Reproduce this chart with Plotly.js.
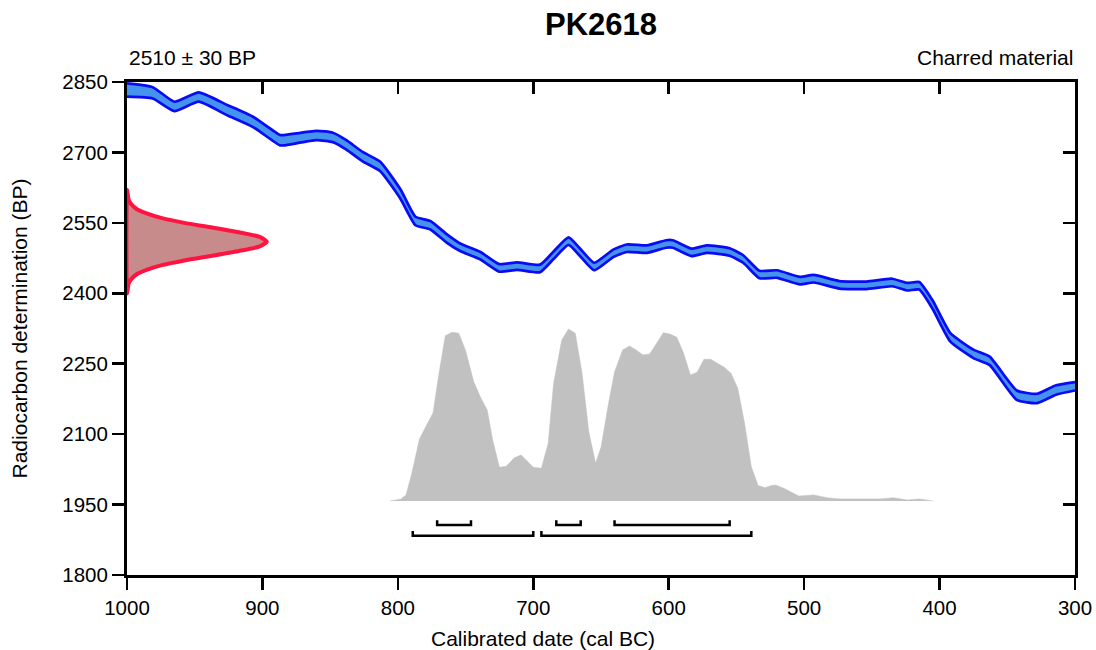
<!DOCTYPE html>
<html>
<head>
<meta charset="utf-8">
<script src="https://cdn.plot.ly/plotly-3.0.1.min.js"></script>
<style>html,body{margin:0;padding:0;background:#fff;}#chart{width:1096px;height:650px;}</style>
</head>
<body>
<div id="chart"></div>
<script>
// Calibration curve (cal BC, BP mean, 1-sigma in BP)
const curveYears = [1000, 981, 965, 947, 926, 907, 887, 884, 860, 848, 838, 826, 813, 798, 787, 776, 764, 754, 739, 725, 712, 695, 685, 674, 666, 655, 641, 631, 616, 602, 597, 583, 572, 555, 545, 533, 520, 503, 493, 474, 454, 435, 424, 415, 405, 392, 375, 363, 343, 328, 314, 300];
const curveBP    = [2833, 2827, 2798, 2818, 2790, 2765, 2726, 2726, 2736, 2732, 2716, 2691, 2670, 2611, 2554, 2545, 2517, 2498, 2480, 2454, 2458, 2453, 2481, 2511, 2489, 2457, 2485, 2496, 2494, 2505, 2505, 2487, 2494, 2488, 2473, 2440, 2441, 2427, 2431, 2418, 2417, 2423, 2414, 2416, 2375, 2306, 2271, 2256, 2183, 2176, 2194, 2202];
const curveSigma = [14, 12, 10, 10, 11, 11, 11, 11, 10, 10, 10, 10, 10, 10, 9, 9, 9, 8, 8, 8, 8, 8, 8, 8, 8, 8, 8, 8, 8, 8, 8, 8, 8, 8, 8, 8, 8, 8, 8, 8, 8, 8, 8, 8, 9, 9, 9, 9, 10, 10, 10, 9];

// Radiocarbon measurement distribution (BP levels, relative height)
const measBP     = [2620, 2600, 2590, 2580, 2570, 2560, 2550, 2540, 2530, 2520, 2510, 2500, 2490, 2480, 2470, 2460, 2450, 2440, 2430, 2420, 2400];
const measHeight = [0.001, 0.011, 0.03, 0.066, 0.14, 0.25, 0.41, 0.61, 0.80, 0.95, 1.0, 0.95, 0.80, 0.61, 0.41, 0.25, 0.14, 0.066, 0.03, 0.011, 0.001];

// Calibrated probability distribution (cal BC, relative probability)
const postYears = [806, 798, 794, 790, 784, 780, 774, 770, 765, 760, 755, 750, 744, 739, 734, 730, 725, 720, 714, 709, 705, 700, 694, 689, 685, 679, 674, 669, 664, 659, 654, 650, 644, 640, 634, 629, 624, 619, 614, 609, 604, 599, 594, 589, 584, 579, 574, 569, 564, 559, 554, 549, 544, 539, 534, 529, 524, 521, 515, 504, 493, 483, 474, 459, 444, 434, 424, 415, 405];
const postProb  = [0, 0.01, 0.035, 0.15, 0.36, 0.42, 0.51, 0.72, 0.955, 0.975, 0.97, 0.87, 0.69, 0.60, 0.526, 0.353, 0.195, 0.2, 0.25, 0.266, 0.237, 0.195, 0.189, 0.333, 0.68, 0.93, 0.994, 0.97, 0.74, 0.40, 0.218, 0.31, 0.584, 0.746, 0.873, 0.896, 0.873, 0.844, 0.85, 0.91, 0.973, 0.965, 0.946, 0.854, 0.728, 0.744, 0.819, 0.819, 0.796, 0.773, 0.738, 0.651, 0.449, 0.198, 0.089, 0.077, 0.09, 0.092, 0.073, 0.029, 0.035, 0.019, 0.012, 0.013, 0.012, 0.019, 0.006, 0.012, 0];

// Highest posterior density ranges (cal BC)
const hpd68From = [771, 683, 640];
const hpd68To   = [746, 665, 555];
const hpd95From = [789, 694];
const hpd95To   = [700, 539];

// Axis ticks
const xTicks = [1000, 900, 800, 700, 600, 500, 400, 300];
const yTicks = [1800, 1950, 2100, 2250, 2400, 2550, 2700, 2850];

const FONT = 'Liberation Sans, Arial, Helvetica, sans-serif';
const measScale = 103.2;  // width of measurement curve in years

const upper = curveBP.map((v, i) => v + curveSigma[i]);
const lower = curveBP.map((v, i) => v - curveSigma[i]);

// measurement polygon (closed along the y axis)
const mx = [1000], my = [measBP[0]];
measBP.forEach((b, i) => { mx.push(1000 - measHeight[i] * measScale); my.push(b); });
mx.push(1000); my.push(measBP[measBP.length - 1]);
mx.push(1000); my.push(measBP[0]);

function brackets(from, to, yv, t) {
  const x = [], y = [];
  from.forEach((f, i) => {
    x.push(f, f, to[i], to[i], null);
    y.push(yv + t, yv, yv, yv + t, null);
  });
  return {x, y};
}
const b68 = brackets(hpd68From, hpd68To, -0.139, 0.028);
const b95 = brackets(hpd95From, hpd95To, -0.201, 0.028);

const traces = [
  {x: postYears, y: postProb, xaxis: 'x', yaxis: 'y3', type: 'scatter', mode: 'lines',
   fill: 'tozeroy', fillcolor: 'rgb(193,193,193)', line: {color: 'rgb(193,193,193)', width: 0.5}, hoverinfo: 'skip'},
  {x: b68.x, y: b68.y, xaxis: 'x', yaxis: 'y3', mode: 'lines', line: {color: '#000', width: 2.5}, connectgaps: false, hoverinfo: 'skip'},
  {x: b95.x, y: b95.y, xaxis: 'x', yaxis: 'y3', mode: 'lines', line: {color: '#000', width: 2.5}, connectgaps: false, hoverinfo: 'skip'},
  {x: curveYears, y: lower, mode: 'lines', line: {color: 'rgb(10,10,245)', width: 2.7, shape: 'spline', smoothing: 0.5}, hoverinfo: 'skip'},
  {x: curveYears, y: upper, mode: 'lines', fill: 'tonexty', fillcolor: 'rgb(68,148,238)',
   line: {color: 'rgb(10,10,245)', width: 2.7, shape: 'spline', smoothing: 0.5}, hoverinfo: 'skip'},
  {x: mx, y: my, mode: 'lines', fill: 'toself', fillcolor: 'rgb(200,139,139)',
   line: {color: 'rgb(255,20,65)', width: 4, shape: 'spline', smoothing: 0.6}, hoverinfo: 'skip'}
];

const axisCommon = {showgrid: false, zeroline: false, showline: true, linecolor: '#000', linewidth: 3,
  tickcolor: '#000', tickwidth: 2.5, ticklen: 12, tickfont: {family: FONT, size: 20.5, color: '#000'}};

const layout = {
  width: 1096, height: 650,
  margin: {l: 127, r: 21, t: 82, b: 75, pad: 0},
  paper_bgcolor: '#fff', plot_bgcolor: '#fff',
  showlegend: false,
  font: {family: FONT, color: '#000'},
  xaxis: Object.assign({}, axisCommon, {range: [1000, 300], tickvals: xTicks, ticktext: xTicks.map(String), ticks: 'outside'}),
  xaxis2: Object.assign({}, axisCommon, {range: [1000, 300], tickvals: xTicks, ticks: 'inside', showticklabels: false, overlaying: 'x', side: 'top', anchor: 'y'}),
  yaxis: Object.assign({}, axisCommon, {range: [1800, 2850], tickvals: yTicks, ticktext: yTicks.map(String), ticks: 'outside'}),
  yaxis2: Object.assign({}, axisCommon, {range: [1800, 2850], tickvals: yTicks, ticks: 'inside', showticklabels: false, overlaying: 'y', side: 'right', anchor: 'x'}),
  yaxis3: {range: [-0.428, 2.422], overlaying: 'y', visible: false, showgrid: false, zeroline: false},
  annotations: [
    {text: '<b>PK2618</b>', xref: 'paper', yref: 'paper', x: 0.5, y: 1.1176, xanchor: 'center', yanchor: 'middle', showarrow: false, font: {family: FONT, size: 31, color: '#000'}},
    {text: '2510 ± 30 BP', xref: 'paper', yref: 'paper', x: 0, y: 1.0487, xanchor: 'left', yanchor: 'middle', showarrow: false, font: {family: FONT, size: 21, color: '#000'}},
    {text: 'Charred material', xref: 'paper', yref: 'paper', x: 1, y: 1.0487, xanchor: 'right', yanchor: 'middle', showarrow: false, font: {family: FONT, size: 21, color: '#000'}},
    {text: 'Calibrated date (cal BC)', xref: 'paper', yref: 'paper', x: 0.4388, y: -0.1295, xanchor: 'center', yanchor: 'middle', showarrow: false, font: {family: FONT, size: 21, color: '#000'}},
    {text: 'Radiocarbon determination (BP)', xref: 'paper', yref: 'paper', x: -0.1129, y: 0.5, xanchor: 'center', yanchor: 'middle', textangle: -90, showarrow: false, font: {family: FONT, size: 21, color: '#000'}}
  ]
};

// dummy trace so overlay axes render
traces.push({x: [1000], y: [1800], xaxis: 'x2', yaxis: 'y2', mode: 'markers', marker: {opacity: 0}, hoverinfo: 'skip'});

Plotly.newPlot('chart', traces, layout, {staticPlot: true, displayModeBar: false});
</script>
</body>
</html>
